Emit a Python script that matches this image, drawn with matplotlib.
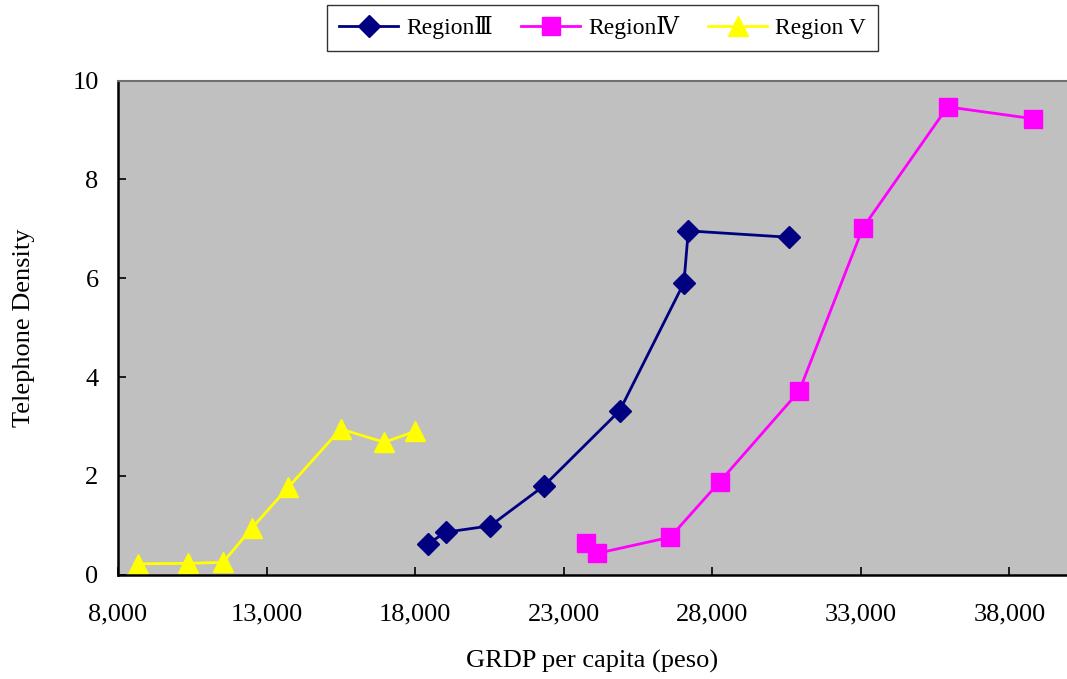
import matplotlib
matplotlib.use("Agg")
import matplotlib.pyplot as plt
from matplotlib.ticker import FuncFormatter

# GRDP per capita (peso) and telephone density for each region
region3_x = [18416, 19027, 20528, 22335, 24882, 27045, 27190, 30580]
region3_y = [0.62, 0.86, 0.99, 1.80, 3.32, 5.91, 6.96, 6.83]

region4_x = [23748, 24108, 26585, 28247, 30926, 33065, 35916, 38797]
region4_y = [0.64, 0.43, 0.76, 1.88, 3.72, 7.02, 9.47, 9.23]

region5_x = [8662, 10345, 11533, 12498, 13731, 15492, 16960, 17991]
region5_y = [0.22, 0.23, 0.25, 0.94, 1.77, 2.95, 2.68, 2.90]

series_labels = ["Region\u2162", "Region\u2163", "Region V"]
x_ticks = [8000, 13000, 18000, 23000, 28000, 33000, 38000]
y_ticks = [0, 2, 4, 6, 8, 10]

serif = ["Liberation Serif", "DejaVu Serif"]
plt.rcParams["font.family"] = serif

fig = plt.figure(figsize=(10.67, 6.79), dpi=100)
ax = fig.add_axes([0.1106, 0.1536, 0.8894, 0.7276])
ax.set_facecolor("#C0C0C0")

lw = 2.0
ax.plot(region3_x, region3_y, color="#000080", lw=lw, marker="D", ms=11,
        mec="#000080", label=series_labels[0])
ax.plot(region4_x, region4_y, color="#FF00FF", lw=lw, marker="s", ms=13.5,
        mec="#FF00FF", label=series_labels[1])
ax.plot(region5_x, region5_y, color="#FFFF00", lw=lw, marker="^", ms=15,
        mec="#FFFF00", label=series_labels[2])

ax.set_xlim(8000, 39935)
ax.set_ylim(0, 10)
ax.set_xticks(x_ticks)
ax.set_yticks(y_ticks)
ax.xaxis.set_major_formatter(FuncFormatter(lambda v, p: f"{int(v):,}"))

for side in ("left", "bottom"):
    ax.spines[side].set_color("black")
    ax.spines[side].set_linewidth(1.8)
ax.spines["top"].set_color("#707070")
ax.spines["top"].set_linewidth(1.5)
ax.spines["right"].set_visible(False)

ax.tick_params(axis="both", direction="in", length=6, width=1.2,
               color="black", labelsize=19)
ax.tick_params(axis="x", pad=21)
ax.tick_params(axis="y", pad=14)

ax.set_xlabel("GRDP per capita (peso)", fontsize=19, labelpad=17)
ax.set_ylabel("Telephone Density", fontsize=19, labelpad=27)

leg = fig.legend(loc="center", bbox_to_anchor=(0.5647, 0.9588), ncol=3,
                 frameon=True, fancybox=False,
                 handlelength=2.5, handletextpad=0.35, columnspacing=1.2,
                 borderpad=0.5, prop={"family": serif, "size": 17})
leg.get_frame().set_edgecolor("black")
leg.get_frame().set_linewidth(1.0)

fig.savefig("out.png", dpi=100)
